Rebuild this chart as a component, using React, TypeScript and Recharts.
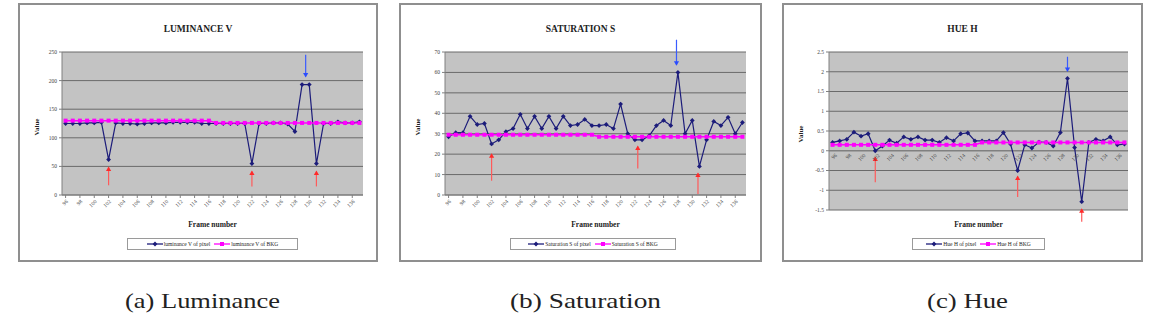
import React from 'react';
import { LineChart, Line, XAxis, YAxis, CartesianGrid, ReferenceLine, ReferenceDot } from 'recharts';

const FONT = '"Liberation Serif", "Times New Roman", serif';

// ---------- data ----------
const frames = [96, 97, 98, 99, 100, 101, 102, 103, 104, 105, 106, 107, 108, 109, 110, 111, 112, 113, 114, 115, 116, 117, 118, 119, 120, 121, 122, 123, 124, 125, 126, 127, 128, 129, 130, 131, 132, 133, 134, 135, 136, 137];
const xTicks = [96, 98, 100, 102, 104, 106, 108, 110, 112, 114, 116, 118, 120, 122, 124, 126, 128, 130, 132, 134, 136];

const lumPixel = [125, 125, 125, 126, 126, 127, 62, 126, 125, 125, 124, 125, 126, 126, 126, 127, 127, 127, 127, 125, 125, 125, 125, 125, 125, 125, 55, 125, 125, 126, 126, 124, 111, 193, 193, 55, 125, 125, 128, 126, 126, 128];
const lumBkg = [130, 130, 130, 130, 130, 130, 130, 130, 130, 130, 130, 130, 130, 130, 130, 130, 130, 130, 130, 130, 130, 126, 126, 126, 126, 126, 126, 126, 126, 126, 126, 126, 126, 126, 126, 126, 126, 126, 126, 126, 126, 126];
const lumYTicks = [0, 50, 100, 150, 200, 250];

const satPixel = [28.5, 30.5, 30.5, 38.5, 34.5, 35, 25, 27, 31, 32.5, 39.5, 32.5, 38.5, 32.5, 38.5, 32.5, 38.5, 34, 34.5, 37, 34, 34, 34.5, 32.5, 44.5, 30, 27, 27, 29, 34, 36.5, 34, 60, 30, 36.5, 14, 27, 36, 34, 38, 30, 35.5];
const satBkg = [29.5, 29.5, 29.5, 29.5, 29.5, 29.5, 29.5, 29.5, 29.5, 29.5, 29.5, 29.5, 29.5, 29.5, 29.5, 29.5, 29.5, 29.5, 29.5, 29.5, 29.5, 28.5, 28.5, 28.5, 28.5, 28.5, 28.5, 28.5, 28.5, 28.5, 28.5, 28.5, 28.5, 28.5, 28.5, 28.5, 28.5, 28.5, 28.5, 28.5, 28.5, 28.5];
const satYTicks = [0, 10, 20, 30, 40, 50, 60, 70];

const huePixel = [0.21, 0.25, 0.29, 0.47, 0.37, 0.43, 0, 0.12, 0.27, 0.19, 0.35, 0.29, 0.35, 0.27, 0.27, 0.21, 0.33, 0.25, 0.43, 0.45, 0.25, 0.25, 0.25, 0.25, 0.46, 0.17, -0.5, 0.15, 0.07, 0.22, 0.21, 0.12, 0.46, 1.83, 0.08, -1.29, 0.21, 0.29, 0.25, 0.35, 0.15, 0.17];
const hueBkg = [0.15, 0.15, 0.15, 0.15, 0.15, 0.15, 0.15, 0.15, 0.15, 0.15, 0.15, 0.15, 0.15, 0.15, 0.15, 0.15, 0.15, 0.15, 0.15, 0.15, 0.15, 0.21, 0.21, 0.21, 0.21, 0.21, 0.21, 0.21, 0.21, 0.21, 0.21, 0.21, 0.21, 0.21, 0.21, 0.21, 0.21, 0.21, 0.21, 0.21, 0.21, 0.21];
const hueYTicks = [-1.5, -1, -0.5, 0, 0.5, 1, 1.5, 2, 2.5];

type Arrow = { x: number; head: number; tail: number };
const lumRedArrows: Arrow[] = [
  { x: 102, head: 48, tail: 17 },
  { x: 122, head: 41, tail: 15 },
  { x: 131, head: 41, tail: 15 },
];
const lumBlueArrow: Arrow = { x: 129.5, head: 207, tail: 245 };

const satRedArrows: Arrow[] = [
  { x: 102, head: 20, tail: 7 },
  { x: 122.4, head: 23.7, tail: 13 },
  { x: 130.8, head: 10.5, tail: 0.5 },
];
const satBlueArrow: Arrow = { x: 127.8, head: 63.8, tail: 76 };

const hueRedArrows: Arrow[] = [
  { x: 102, head: -0.17, tail: -0.8 },
  { x: 122, head: -0.65, tail: -1.17 },
  { x: 131, head: -1.48, tail: -1.8 },
];
const hueBlueArrow: Arrow = { x: 129, head: 2.02, tail: 2.38 };

// ---------- styles ----------
const BLUE = '#1c1c7a';
const PINK = '#ff00ff';
const PLOT_BG = '#c3c3c3';
const GRID = '#6a6a6a';
const Y_W = 22;
const PANEL_H = 259;
const PANEL_TOP = 3;

const Diamond = (props: any) => {
  const { cx, cy, index } = props;
  if (cx == null || cy == null) return <g key={index} />;
  return (
    <polygon
      key={index}
      points={`${cx},${cy - 2.4} ${cx + 2.4},${cy} ${cx},${cy + 2.4} ${cx - 2.4},${cy}`}
      fill={BLUE}
    />
  );
};

const Square = (props: any) => {
  const { cx, cy, index } = props;
  if (cx == null || cy == null) return <g key={index} />;
  return <rect key={index} x={cx - 2} y={cy - 2} width={4} height={4} fill={PINK} />;
};

const UpHead = (color: string) => (p: any) => {
  const { cx, cy } = p;
  return <polygon points={`${cx},${cy - 1} ${cx + 2.6},${cy + 3.5} ${cx - 2.6},${cy + 3.5}`} fill={color} />;
};
const DownHead = (color: string) => (p: any) => {
  const { cx, cy } = p;
  return <polygon points={`${cx},${cy + 1} ${cx + 2.6},${cy - 3.5} ${cx - 2.6},${cy - 3.5}`} fill={color} />;
};

const makeXTick = (shiftUp: number, dy: number) => (props: any) => {
  const { x, y, payload } = props;
  return (
    <g transform={`translate(${x},${y - shiftUp})`}>
      <text
        x={0}
        y={0}
        dy={dy}
        textAnchor="end"
        transform="rotate(-45)"
        fontSize={5.5}
        fill="#444"
        style={{ fontFamily: FONT }}
      >
        {payload.value}
      </text>
    </g>
  );
};

function LegendIcon({ kind }: { kind: 'pixel' | 'bkg' }) {
  return (
    <svg width={16} height={6} style={{ display: 'block' }}>
      <line x1={0} y1={3} x2={16} y2={3} stroke={kind === 'pixel' ? BLUE : PINK} strokeWidth={1.3} />
      {kind === 'pixel' ? (
        <polygon points="8,0.6 10.4,3 8,5.4 5.6,3" fill={BLUE} />
      ) : (
        <rect x={6} y={1} width={4} height={4} fill={PINK} />
      )}
    </svg>
  );
}

type PanelProps = {
  left: number;
  width: number;
  title: string;
  pixel: number[];
  bkg: number[];
  pixelName: string;
  bkgName: string;
  yTicks: number[];
  marginLeft: number;
  marginRight: number;
  hueMode?: boolean;
  redArrows: Arrow[];
  blueArrow: Arrow;
  legendLeft: number;
  legendWidth: number;
};

function Panel(p: PanelProps) {
  const top = 49;
  const xAxisH = p.hueMode ? 2 : 30;
  const bottom = p.hueMode ? 50 : 37;
  const plotH = PANEL_H - top - bottom - xAxisH;
  const yMin = p.yTicks[0];
  const yMax = p.yTicks[p.yTicks.length - 1];
  const shiftUp = p.hueMode ? (plotH * (0 - yMin)) / (yMax - yMin) : 0;
  const data = frames.map((f, i) => ({ frame: f, pixel: p.pixel[i], bkg: p.bkg[i] }));
  const plotLeft = p.marginLeft + Y_W;
  const plotRight = p.width - p.marginRight;
  const plotCx = (plotLeft + plotRight) / 2;
  const plotCy = top + plotH / 2;

  return (
    <div
      style={{
        position: 'absolute',
        left: p.left,
        top: PANEL_TOP,
        width: p.width,
        height: PANEL_H,
        boxShadow: 'inset 0 0 0 2px #8f8f8f',
        background: '#ffffff',
      }}
    >
      <div
        style={{
          position: 'absolute',
          left: 0,
          top: 21,
          width: p.width,
          textAlign: 'center',
          fontFamily: FONT,
          fontWeight: 'bold',
          fontSize: 9.5,
          lineHeight: '10px',
          color: '#222',
        }}
      >
        {p.title}
      </div>
      <div
        style={{
          position: 'absolute',
          left: 19 - 20,
          top: plotCy + 3 - 5,
          width: 40,
          height: 10,
          textAlign: 'center',
          fontFamily: FONT,
          fontWeight: 'bold',
          fontSize: 7,
          lineHeight: '10px',
          color: '#222',
          transform: 'rotate(-90deg)',
        }}
      >
        Value
      </div>
      <div
        style={{
          position: 'absolute',
          left: plotCx - 40,
          top: 217,
          width: 80,
          textAlign: 'center',
          fontFamily: FONT,
          fontWeight: 'bold',
          fontSize: 7.5,
          lineHeight: '10px',
          color: '#222',
        }}
      >
        Frame number
      </div>
      <div
        style={{
          position: 'absolute',
          left: p.legendLeft,
          top: 235,
          width: p.legendWidth,
          height: 12,
          boxSizing: 'border-box',
          border: '1px solid #9a9a9a',
          background: '#fff',
          display: 'flex',
          alignItems: 'center',
          justifyContent: 'center',
          gap: 4,
          fontFamily: FONT,
          fontSize: 5.5,
          color: '#222',
        }}
      >
        <div style={{ display: 'flex', alignItems: 'center', gap: 1 }}>
          <LegendIcon kind="pixel" />
          <span>{p.pixelName}</span>
        </div>
        <div style={{ display: 'flex', alignItems: 'center', gap: 1 }}>
          <LegendIcon kind="bkg" />
          <span>{p.bkgName}</span>
        </div>
      </div>
      <div style={{ position: 'absolute', left: 0, top: 0 }}>
        <LineChart
          width={p.width}
          height={PANEL_H}
          data={data}
          margin={{ top, right: p.marginRight, bottom, left: p.marginLeft }}
        >
          <CartesianGrid vertical={false} fill={PLOT_BG} fillOpacity={1} stroke={GRID} strokeWidth={1} />
          <XAxis
            dataKey="frame"
            type="number"
            domain={[95.5, 137.5]}
            ticks={xTicks}
            interval={0}
            height={xAxisH}
            tickSize={p.hueMode ? 0 : 3}
            tickMargin={p.hueMode ? 0 : 1}
            axisLine={p.hueMode ? false : { stroke: '#808080' }}
            tickLine={p.hueMode ? false : { stroke: '#808080' }}
            tick={makeXTick(shiftUp, p.hueMode ? 7 : 4)}
          />
          <YAxis
            type="number"
            domain={[yMin, yMax]}
            ticks={p.yTicks}
            interval={0}
            width={Y_W}
            tickSize={3}
            tickMargin={2}
            axisLine={{ stroke: '#808080' }}
            tickLine={{ stroke: '#808080' }}
            tick={{ fontSize: 5.5, fill: '#444', style: { fontFamily: FONT } }}
          />
          {p.hueMode ? <ReferenceLine y={0} stroke="#808080" strokeWidth={1} /> : null}
          <Line
            type="linear"
            dataKey="pixel"
            stroke={BLUE}
            strokeWidth={1.2}
            dot={Diamond}
            activeDot={false}
            isAnimationActive={false}
          />
          <Line
            type="linear"
            dataKey="bkg"
            stroke={PINK}
            strokeWidth={1.5}
            dot={Square}
            activeDot={false}
            isAnimationActive={false}
          />
          {p.redArrows.map((a, i) => (
            <ReferenceLine
              key={`rl${i}`}
              segment={[
                { x: a.x, y: a.tail },
                { x: a.x, y: a.head },
              ]}
              stroke="#ff5a5a"
              strokeWidth={1.2}
              ifOverflow="visible"
            />
          ))}
          {p.redArrows.map((a, i) => (
            <ReferenceDot
              key={`rd${i}`}
              x={a.x}
              y={a.head}
              r={3}
              ifOverflow="visible"
              shape={UpHead('#ff2a2a')}
            />
          ))}
          <ReferenceLine
            segment={[
              { x: p.blueArrow.x, y: p.blueArrow.tail },
              { x: p.blueArrow.x, y: p.blueArrow.head },
            ]}
            stroke="#3a5cff"
            strokeWidth={1.2}
            ifOverflow="visible"
          />
          <ReferenceDot
            x={p.blueArrow.x}
            y={p.blueArrow.head}
            r={3}
            ifOverflow="visible"
            shape={DownHead('#2a4cff')}
          />
        </LineChart>
      </div>
    </div>
  );
}

const captions = [
  { text: '(a) Luminance', x: 125, len: 155 },
  { text: '(b) Saturation', x: 510, len: 151 },
  { text: '(c) Hue', x: 927, len: 81 },
];

export default function App() {
  return (
    <div
      style={{
        position: 'absolute',
        left: 0,
        top: 0,
        width: 1158,
        height: 314,
        background: '#ffffff',
        overflow: 'hidden',
      }}
    >
      <Panel
        left={18}
        width={360}
        title="LUMINANCE V"
        pixel={lumPixel}
        bkg={lumBkg}
        pixelName="luminance V of pixel"
        bkgName="luminance V of BKG"
        yTicks={lumYTicks}
        marginLeft={22}
        marginRight={15}
        redArrows={lumRedArrows}
        blueArrow={lumBlueArrow}
        legendLeft={109}
        legendWidth={171}
      />
      <Panel
        left={399}
        width={363}
        title="SATURATION S"
        pixel={satPixel}
        bkg={satBkg}
        pixelName="Saturation S of pixel"
        bkgName="Saturation S of BKG"
        yTicks={satYTicks}
        marginLeft={24}
        marginRight={16}
        redArrows={satRedArrows}
        blueArrow={satBlueArrow}
        legendLeft={111}
        legendWidth={166}
      />
      <Panel
        left={782}
        width={361}
        title="HUE H"
        pixel={huePixel}
        bkg={hueBkg}
        pixelName="Hue H of pixel"
        bkgName="Hue H of BKG"
        yTicks={hueYTicks}
        marginLeft={25}
        marginRight={15}
        hueMode
        redArrows={hueRedArrows}
        blueArrow={hueBlueArrow}
        legendLeft={130}
        legendWidth={133}
      />
      <svg width={1158} height={314} style={{ position: 'absolute', left: 0, top: 0, pointerEvents: 'none' }}>
        {captions.map((c) => (
          <text
            key={c.text}
            x={c.x}
            y={308}
            fontSize={21}
            fill="#222"
            textLength={c.len}
            lengthAdjust="spacingAndGlyphs"
            style={{ fontFamily: FONT }}
          >
            {c.text}
          </text>
        ))}
      </svg>
    </div>
  );
}
